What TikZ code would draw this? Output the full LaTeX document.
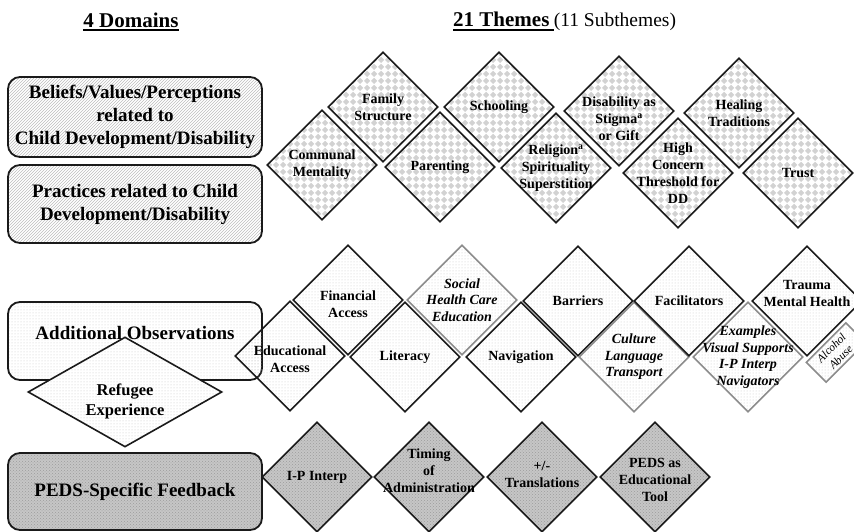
\documentclass[tikz,border=0pt]{standalone}
\usepackage{fontspec}
\setmainfont{Liberation Serif}
\usetikzlibrary{shapes.geometric,patterns}

\definecolor{figLine}{HTML}{1A1A1A}
\definecolor{figGrey}{HTML}{8C8C8C}
\definecolor{figHatch}{HTML}{BDBDBD}
\definecolor{figCheck}{HTML}{D2D2D2}
\definecolor{figDot}{HTML}{C6C6C6}
\definecolor{figDark}{HTML}{C6C6C6}
\definecolor{figDarkDot}{HTML}{9C9C9C}

% diamond checker tile
\pgfdeclarepatternformonly{diamondcheck}{\pgfpointorigin}{\pgfpoint{7pt}{7pt}}{\pgfpoint{7pt}{7pt}}{
  \pgfpathmoveto{\pgfpoint{3.5pt}{0pt}}
  \pgfpathlineto{\pgfpoint{7pt}{3.5pt}}
  \pgfpathlineto{\pgfpoint{3.5pt}{7pt}}
  \pgfpathlineto{\pgfpoint{0pt}{3.5pt}}
  \pgfpathclose
  \pgfusepath{fill}}

\begin{document}
\begin{tikzpicture}[x=1pt,y=-1pt,
  dom/.style={draw=figLine,line width=1.8pt,rounded corners=12pt,minimum width=254pt,inner sep=0pt},
  hatchbox/.style={dom,pattern=north east lines,pattern color=figHatch},
  dotbox/.style={dom,pattern=dots,pattern color=figDot},
  pedsbox/.style={dom,preaction={fill=figDark},pattern=crosshatch dots,pattern color=figDarkDot},
  domtext/.style={font=\fontsize{19}{23}\selectfont\bfseries,align=center},
  theme/.style={diamond,draw=figLine,line width=1.6pt,minimum width=110pt,minimum height=110pt,inner sep=0pt},
  belief/.style={theme,pattern=diamondcheck,pattern color=figCheck},
  access/.style={theme,pattern=dots,pattern color=figDot},
  subtheme/.style={access,draw=figGrey},
  peds/.style={theme,preaction={fill=figDark},pattern=crosshatch dots,pattern color=figDarkDot},
  lbl/.style={font=\fontsize{14}{17}\selectfont\bfseries,align=center},
  sublbl/.style={font=\fontsize{14}{16.5}\selectfont\bfseries\itshape,align=center},
  head/.style={font=\fontsize{21}{25}\selectfont\bfseries,inner sep=0pt}]
\useasboundingbox (0,0) rectangle (854,532);
\clip (0,0) rectangle (854,532);

% Headings
\node[head] (hdom) at (131,20) {4 Domains};
\draw[line width=1.5pt] ([yshift=-3pt]hdom.base west) -- ([yshift=-3pt]hdom.base east);
\node[head,anchor=base west] (hthm) at (453,27) {21 Themes};
\node[font=\fontsize{19.5}{23}\selectfont,inner sep=0pt,anchor=base west] (hsub) at ([xshift=4pt]hthm.base east) {(11 Subthemes)};
\draw[line width=1.5pt] ([yshift=-3pt]hthm.base west) -- ([yshift=-3pt,xshift=4pt]hthm.base east);

% Domains
\node[hatchbox,minimum height=80pt,domtext] (bel) at (135,117) {Beliefs/Values/Perceptions\\related to\\Child Development/Disability};
\node[hatchbox,minimum height=78pt,domtext] (prac) at (135,204) {Practices related to Child\\Development/Disability};
\node[dotbox,minimum height=78pt] (addobs) at (135,341) {};
\node[diamond,draw=figLine,line width=1.6pt,inner sep=0pt,minimum width=194pt,minimum height=110pt,
  preaction={fill=white},pattern=dots,pattern color=figDot] (refu) at (125,392) {};
\node[domtext] (addtxt) at (135,333) {Additional Observations};
\node[font=\fontsize{16.5}{20}\selectfont\bfseries,align=center] (refutxt) at (125,401) {Refugee\\Experience};
\node[pedsbox,minimum height=77pt,domtext] (pedsfb) at (135,491.5) {PEDS-Specific Feedback};

% Themes: beliefs and practices
\node[belief,label={[lbl]center:Communal\\Mentality}] (comm) at (322,165) {};
\node[belief,label={[lbl]center:Family\\Structure}] (fam) at (383,107) {};
\node[belief,label={[lbl]center:Parenting}] (par) at (440,167) {};
\node[belief,label={[lbl]center:Schooling}] (sch) at (499,107) {};
\node[belief,label={[lbl]center:Religion\textsuperscript{a}\\Spirituality\\Superstition}] (rel) at (556,168) {};
\node[belief,label={[lbl,yshift=-8pt]center:Disability as\\Stigma\textsuperscript{a}\\or Gift}] (stig) at (619,111) {};
\node[belief,label={[lbl]center:High\\Concern\\Threshold for\\DD}] (hcon) at (678,173) {};
\node[belief,label={[lbl]center:Healing\\Traditions}] (heal) at (739,113) {};
\node[belief,label={[lbl]center:Trust}] (trust) at (798,173) {};

% Themes: additional observations
\node[access,label={[lbl,yshift=-3pt]center:Educational\\Access}] (edu) at (290,356) {};
\node[access,label={[lbl,yshift=-4pt]center:Financial\\Access}] (fin) at (348,300) {};
\node[access,label={[lbl]center:Literacy}] (lit) at (405,357) {};
\node[subtheme,label={[sublbl]center:Social\\Health Care\\Education}] (soc) at (462,300) {};
\node[access,label={[lbl]center:Navigation}] (nav) at (521,357) {};
\node[access,label={[lbl]center:Barriers}] (bar) at (578,301) {};
\node[subtheme,label={[sublbl]center:Culture\\Language\\Transport}] (cult) at (634,357) {};
\node[access,label={[lbl]center:Facilitators}] (fac) at (689,301) {};
\node[subtheme,label={[sublbl]center:Examples\\Visual Supports\\I-P Interp\\Navigators}] (exam) at (748,357) {};
\node[access,label={[lbl,yshift=8pt]center:Trauma\\Mental Health}] (trau) at (807,301) {};
\node[rectangle,rotate=45,draw=figGrey,line width=1.6pt,minimum width=56pt,minimum height=28pt,inner sep=0pt,
  preaction={fill=white},pattern=dots,pattern color=figDot,
  label={[font=\fontsize{11.5}{13.5}\selectfont\itshape,align=center,inner sep=0pt,rotate=45]center:Alcohol\\Abuse}] (alc) at (836,352.5) {};

% Themes: PEDS feedback
\node[peds,label={[lbl]center:I-P Interp}] (ipi) at (317,477) {};
\node[peds,label={[lbl,yshift=6pt]center:Timing\\of\\Administration}] (tim) at (429,477) {};
\node[peds,label={[lbl,yshift=3pt]center:+/-\\Translations}] (trans) at (542,477) {};
\node[peds,label={[lbl,yshift=-3pt]center:PEDS as\\Educational\\Tool}] (tool) at (655,477) {};
\end{tikzpicture}
\end{document}
